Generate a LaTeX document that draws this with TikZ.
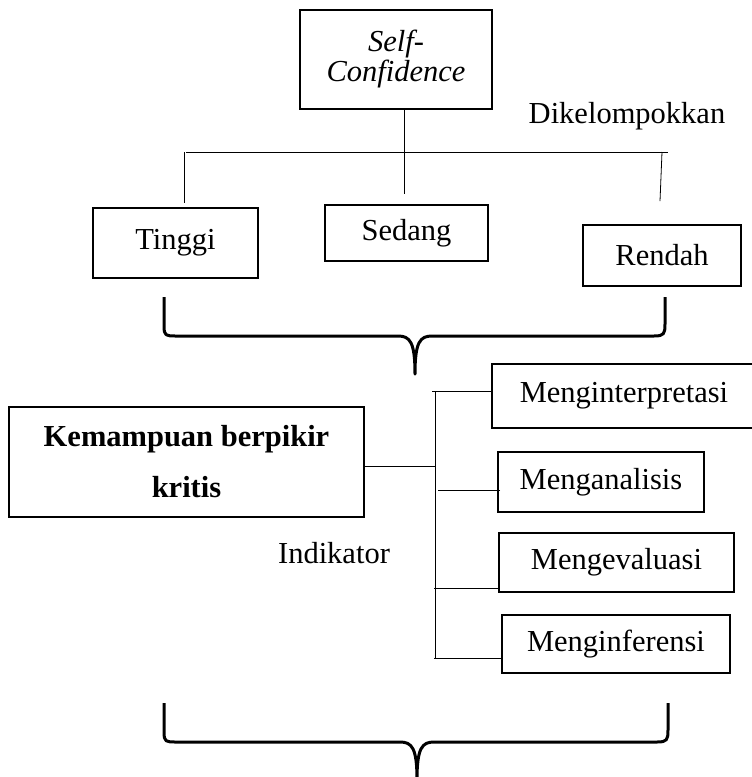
\documentclass[tikz,border=0pt]{standalone}
\usepackage{fontspec}
\setmainfont{Liberation Serif}

\begin{document}
\begin{tikzpicture}[x=1pt,y=-1pt,
  kotak/.style={draw, line width=1.6pt, inner sep=0pt, font=\fontsize{30.5}{36}\selectfont},
  teks/.style={anchor=base, font=\fontsize{30.5}{36}\selectfont},
  garis/.style={line width=0.8pt},
  kurung/.style={line width=3pt, line join=round}]
  \useasboundingbox (0,0) rectangle (752,777);
  % atas
  \node[kotak, minimum width=192pt, minimum height=99pt, align=center,
        font=\fontsize{30.5}{30}\selectfont\itshape] (self) at (396,59.5) {Self-\\Confidence};
  \node[kotak, minimum width=165pt, minimum height=70pt] (tinggi) at (175.5,243) {Tinggi};
  \node[kotak, minimum width=163pt, minimum height=56pt] (sedang) at (406.5,233) {Sedang};
  \node[kotak, minimum width=158pt, minimum height=61pt] (rendah) at (662,255.5) {Rendah};
  \node[teks] (kelompok) at (627,123) {Dikelompokkan};
  \coordinate (busL) at (186,152);
  \coordinate (busR) at (668,152);
  \draw[garis] (busL) -- (busR);
  \draw[garis] ([xshift=8pt]self.south) -- ([xshift=-2.5pt,yshift=10pt]sedang.north);
  \draw[garis] ([xshift=8.5pt]tinggi.north |- busL) -- ([xshift=8.5pt,yshift=4pt]tinggi.north);
  \draw[garis] (rendah.north |- busR) -- ([xshift=-2pt,yshift=23pt]rendah.north);
  \draw[kurung] (164,297) -- (164,326) .. controls (164,336) and (166,336) .. (176,336)
    -- (398,336) .. controls (410,336) and (415,342) .. (415,374)
    .. controls (415,342) and (420,336) .. (432,336)
    -- (654,336) .. controls (664,336) and (665,334) .. (665,324) -- (665,297);
  % bawah
  \node[kotak, minimum width=355pt, minimum height=110pt, align=center,
        font=\fontsize{30.5}{51}\selectfont\bfseries] (kemampuan) at (186.5,462) {Kemampuan berpikir\\kritis};
  \node[kotak, minimum width=264pt, minimum height=64pt] (interp) at (624,396) {Menginterpretasi};
  \node[kotak, minimum width=206pt, minimum height=60pt] (analisis) at (601,482) {Menganalisis};
  \node[kotak, minimum width=235pt, minimum height=59pt] (evaluasi) at (616.5,562.5) {Mengevaluasi};
  \node[kotak, minimum width=228pt, minimum height=58pt] (inferensi) at (616,644) {Menginferensi};
  \node[teks] (indikator) at (334,563) {Indikator};
  \coordinate (spTop) at (435,391);
  \coordinate (spBot) at (435,658);
  \draw[garis] (spTop) -- (spBot);
  \draw[garis] ([yshift=-4pt]kemampuan.east) -- ++(71,0);
  \draw[garis] ([yshift=5pt]interp.west) -- ++(-59,0);
  \draw[garis] ([xshift=3pt,yshift=-8pt]analisis.west) -- ++(-62,0);
  \draw[garis] ([yshift=-25.5pt]evaluasi.west) -- ++(-64,0);
  \draw[garis] ([yshift=-14pt]inferensi.west) -- ++(-67,0);
  \draw[kurung] (164,703) -- (164,732) .. controls (164,742) and (166,742) .. (176,742)
    -- (400,742) .. controls (412,742) and (417,748) .. (417,780)
    .. controls (417,748) and (422,742) .. (434,742)
    -- (657,742) .. controls (667,742) and (668,740) .. (668,730) -- (668,703);
\end{tikzpicture}
\end{document}
